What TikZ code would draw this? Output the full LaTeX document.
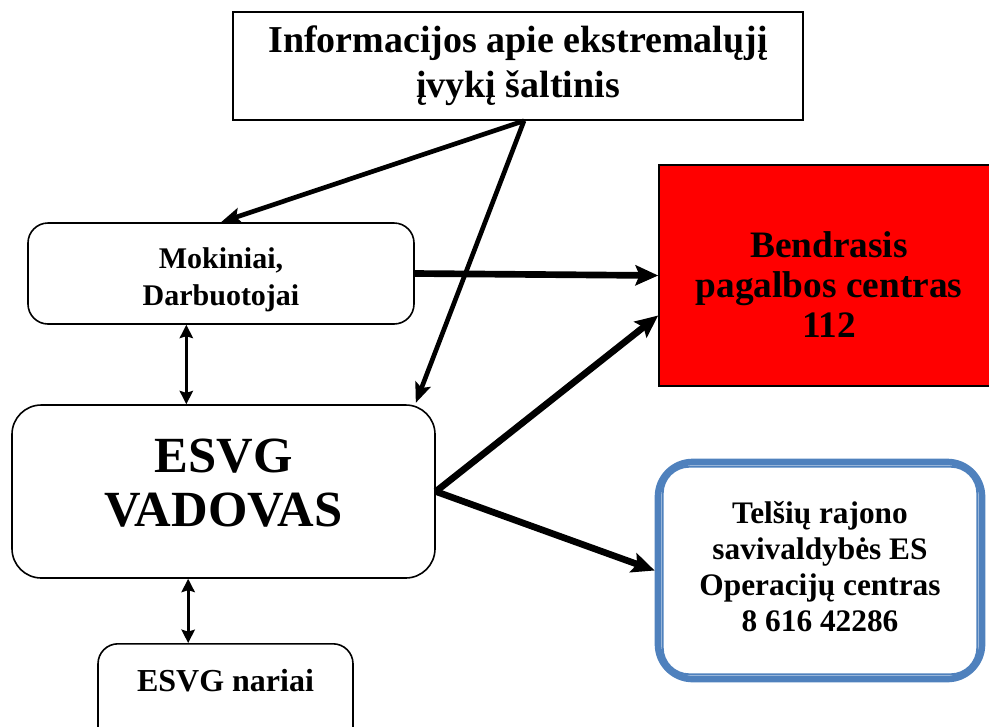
\documentclass[tikz,border=0pt]{standalone}
\usepackage{fontspec}
\setmainfont{Liberation Serif}
\usetikzlibrary{arrows.meta}
\tikzset{>=stealth}
\definecolor{opsblue}{RGB}{79,129,189}
\tikzset{
  box/.style={draw, line width=1.2pt, align=center, inner sep=0pt},
  roundbox/.style={box, rounded corners=15pt},
  flow/.style={-{Stealth[length=15pt, width=12pt, inset=3pt]}, line width=3.5pt},
  bigflow/.style={-{Stealth[length=17pt, width=15pt, inset=3pt]}, line width=5pt},
  link/.style={{Stealth[length=10pt, width=10pt, inset=1.5pt]}-{Stealth[length=10pt, width=10pt, inset=1.5pt]}, line width=2pt},
}

\begin{document}
\begin{tikzpicture}[x=0.75pt, y=-0.75pt]
    \useasboundingbox (0,0) rectangle (989,726);
    % boxes
    \node [box, minimum width=427.5pt, minimum height=81pt,
           font=\bfseries\fontsize{28.5}{34}\selectfont] (info) at (518,66)
        {Informacijos apie ekstremalųjį\\ įvykį šaltinis};
    \node [roundbox, minimum width=289.5pt, minimum height=75.75pt,
           font=\bfseries\fontsize{22.5}{28}\selectfont] (mok) at (221,273.5)
        {\rule{0pt}{25pt}Mokiniai,\\ Darbuotojai};
    \node [box, fill=red, minimum width=255pt, minimum height=165.75pt,
           font=\bfseries\fontsize{28}{30}\selectfont] (pc) at (829,275.5)
        {\rule{0pt}{33pt}Bendrasis\\ pagalbos centras\\ 112};
    \node [roundbox, rounded corners=22pt, minimum width=317.25pt, minimum height=129.75pt,
           text depth=13pt, font=\bfseries\fontsize{38}{40}\selectfont] (vad) at (223.5,491.5)
        {ESVG\\ VADOVAS};
    \node [box, draw=opsblue, line width=5pt, rounded corners=26pt, minimum width=243pt, minimum height=162.75pt,
           text depth=6pt, font=\bfseries\fontsize{23.5}{27}\selectfont] (ops) at (820,570.5)
        {Telšių rajono\\ savivaldybės ES\\ Operacijų centras\\ 8 616 42286};
    \draw [opsblue, line width=1.5pt, rounded corners=20pt]
        ([shift={(6pt,-6pt)}]ops.north west) rectangle ([shift={(-6pt,6pt)}]ops.south east);
    \node [roundbox, anchor=north, text height=36pt, text depth=74pt, minimum width=191.25pt,
           font=\bfseries\fontsize{24}{28}\selectfont] (nar) at (225.5,643)
        {ESVG nariai};
    % arrows
    \coordinate (src) at ([xshift=4.5pt]info.south);
    \draw [flow] (src) -- (mok.north);
    \draw [flow] (src) -- ([xshift=-15pt,yshift=1pt]vad.north east);
    \draw [bigflow] (mok.east) -- (pc.west);
    \draw [bigflow] (vad.east) -- ([yshift=-30pt]pc.west);
    \draw [bigflow] (vad.east) -- (ops.west);
    \draw [link] ([xshift=-26pt]mok.south) -- ([xshift=-26pt]mok.south |- vad.north);
    \draw [link] ([xshift=-28pt]nar.north) -- ([xshift=-28pt]nar.north |- vad.south);
\end{tikzpicture}
\end{document}
